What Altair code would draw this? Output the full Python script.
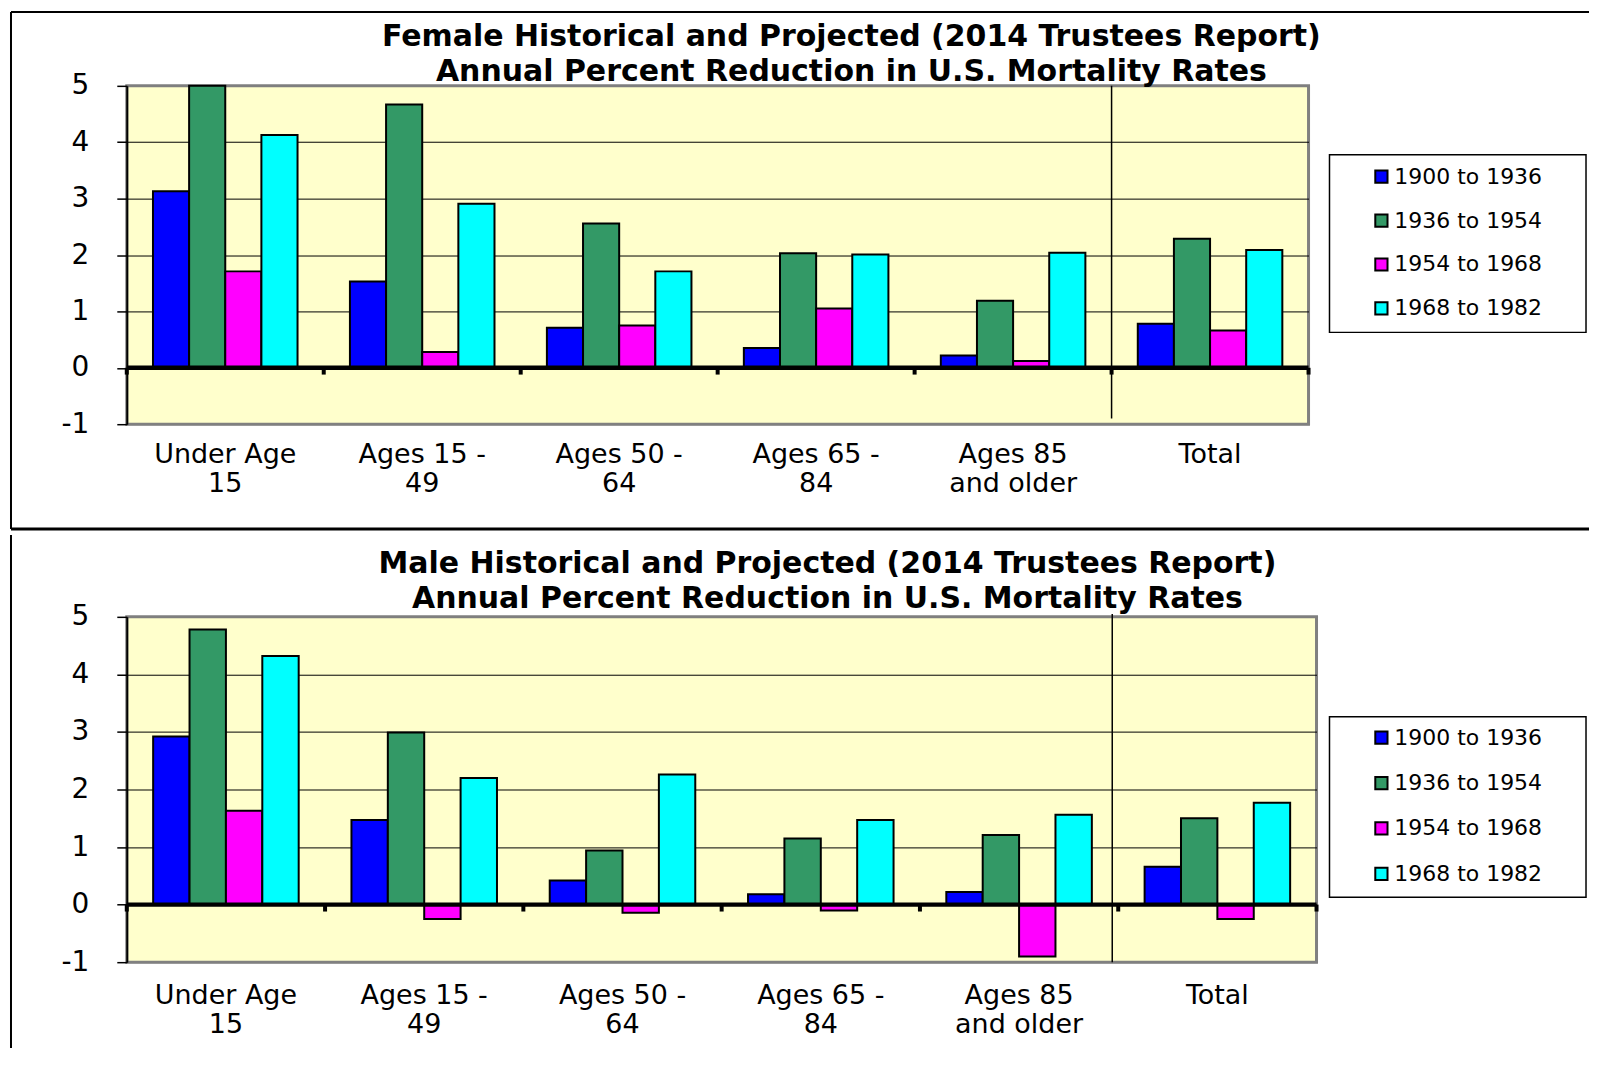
import altair as alt
import pandas as pd

categories = ["Under Age|15", "Ages 15 -|49", "Ages 50 -|64", "Ages 65 -|84", "Ages 85|and older", "Total"]
periods = ["1900 to 1936", "1936 to 1954", "1954 to 1968", "1968 to 1982"]
colors = ["#0000FF", "#339966", "#FF00FF", "#00FFFF"]
y_ticks = [-1, 0, 1, 2, 3, 4, 5]

female_1900_1936 = [3.13, 1.53, 0.71, 0.35, 0.22, 0.78]
female_1936_1954 = [5.00, 4.67, 2.56, 2.03, 1.19, 2.29]
female_1954_1968 = [1.71, 0.28, 0.75, 1.05, 0.12, 0.66]
female_1968_1982 = [4.13, 2.91, 1.71, 2.01, 2.04, 2.09]

male_1900_1936 = [2.92, 1.47, 0.42, 0.18, 0.22, 0.66]
male_1936_1954 = [4.78, 2.99, 0.94, 1.15, 1.21, 1.50]
male_1954_1968 = [1.63, -0.25, -0.14, -0.10, -0.90, -0.25]
male_1968_1982 = [4.32, 2.20, 2.26, 1.47, 1.56, 1.77]

female_title = ["Female Historical and Projected (2014 Trustees Report)",
                "Annual  Percent Reduction in U.S. Mortality Rates"]
male_title = ["Male Historical and Projected (2014 Trustees Report)",
              "Annual  Percent Reduction in U.S. Mortality Rates"]

FONT = "DejaVu Sans"
one = pd.DataFrame({"d": [0]})


def panel(series, title_lines, W, H, tx, ty1, ty2, leg_y, row_pad, box, is_top,
          xlab_pad, sep_dx):
    df = pd.DataFrame([
        {"cat": c, "period": p, "val": v}
        for p, vals in zip(periods, series)
        for c, v in zip(categories, vals)
    ])
    xs = alt.Scale(paddingInner=0, paddingOuter=0)
    ys = alt.Scale(domain=[-1, 5], nice=False)

    bars = alt.Chart(df).mark_bar(stroke="black", strokeWidth=2).encode(
        x=alt.X("cat:N", sort=categories, title=None, scale=xs,
                axis=alt.Axis(labelExpr="split(datum.label, '|')", labelAngle=0,
                              labelFontSize=27, labelLineHeight=29, labelPadding=xlab_pad,
                              labelLimit=0, domain=False, ticks=False, grid=False,
                              labelColor="black", labelFont=FONT)),
        xOffset=alt.XOffset("period:N", sort=periods,
                            scale=alt.Scale(paddingOuter=0.725, paddingInner=0)),
        y=alt.Y("val:Q", scale=ys, title=None,
                axis=alt.Axis(values=y_ticks, labelExpr="toString(datum.value)",
                              labelFontSize=28, labelPadding=28, labelFont=FONT,
                              labelColor="black", tickSize=10, tickWidth=1.5,
                              tickColor="black", domainColor="black", domainWidth=2,
                              grid=True, gridWidth=1,
                              gridColor=alt.condition("datum.value == 5 || datum.value == -1",
                                                      alt.value("#808080"), alt.value("black")))),
        color=alt.Color("period:N", sort=periods,
                        scale=alt.Scale(domain=periods, range=colors),
                        legend=alt.Legend(title=None, orient="none", direction="vertical",
                                          legendX=1246, legendY=leg_y, rowPadding=row_pad)),
    )

    zero = alt.Chart(one).mark_rule(color="black", strokeWidth=4.5).encode(
        y=alt.datum(0, scale=ys))

    cat_df = pd.DataFrame({"cat": categories})
    ticks0 = alt.Chart(cat_df).mark_rule(color="black", strokeWidth=4).encode(
        x=alt.X("cat:N", sort=categories, title=None, bandPosition=0),
        y=alt.datum(0), y2=alt.datum(-0.12))
    last_df = pd.DataFrame({"cat": [categories[-1]]})
    ticks1 = alt.Chart(last_df).mark_rule(color="black", strokeWidth=4).encode(
        x=alt.X("cat:N", sort=categories, title=None, bandPosition=1),
        y=alt.datum(0), y2=alt.datum(-0.12))
    sep = alt.Chart(last_df).mark_rule(color="black", strokeWidth=1.5, xOffset=sep_dx).encode(
        x=alt.X("cat:N", sort=categories, title=None, bandPosition=0),
        y=alt.datum(5.05 if not is_top else 5.0), y2=alt.datum(-0.9 if is_top else -1.0))

    legbox = alt.Chart(one).mark_rect(fill="white", stroke="black", strokeWidth=1.5).encode(
        x=alt.value(box[0]), x2=alt.value(box[1]), y=alt.value(box[2]), y2=alt.value(box[3]))

    t1 = alt.Chart(pd.DataFrame({"t": [title_lines[0]]})).mark_text(
        font=FONT, fontWeight="bold", fontSize=30, align="center", baseline="middle",
        color="black").encode(text="t:N", x=alt.value(tx), y=alt.value(ty1))
    t2 = alt.Chart(pd.DataFrame({"t": [title_lines[1]]})).mark_text(
        font=FONT, fontWeight="bold", fontSize=30, align="center", baseline="middle",
        color="black").encode(text="t:N", x=alt.value(tx), y=alt.value(ty2))

    layers = [bars, zero, ticks0, ticks1, sep, legbox, t1, t2]
    if is_top:
        layers += [
            alt.Chart(one).mark_rule(color="black", strokeWidth=2).encode(
                x=alt.value(-116), x2=alt.value(1465), y=alt.value(-74)),
            alt.Chart(one).mark_rule(color="black", strokeWidth=2).encode(
                x=alt.value(-116), y=alt.value(-74), y2=alt.value(444)),
            alt.Chart(one).mark_rule(color="black", strokeWidth=3).encode(
                x=alt.value(-116), x2=alt.value(1465), y=alt.value(444)),
        ]
    else:
        layers += [
            alt.Chart(one).mark_rule(color="black", strokeWidth=2).encode(
                x=alt.value(-116), y=alt.value(-82), y2=alt.value(432)),
        ]
    return alt.layer(*layers).properties(width=W, height=H)


top = panel([female_1900_1936, female_1936_1954, female_1954_1968, female_1968_1982],
            female_title, 1184, 339, 726, -48.5, -13.5, 80, 22, (1205, 1462, 69, 247), True,
            17, 0)
bottom = panel([male_1900_1936, male_1936_1954, male_1954_1968, male_1968_1982],
               male_title, 1192, 346, 702, -53, -18, 110, 23.5, (1205, 1462, 100, 281), False,
               20, -6)

chart = alt.vconcat(top, bottom, spacing=0, padding=0, background="white").resolve_scale(
    color="independent", xOffset="independent"
).resolve_legend(color="independent").configure_view(
    stroke="#808080", strokeWidth=3, fill="#FFFFCC"
).configure_legend(
    labelFont=FONT, labelFontSize=22, labelColor="black", symbolType="square",
    symbolSize=150, symbolStrokeColor="black", symbolStrokeWidth=2, labelOffset=2,
    padding=0
)

chart.save("out.html", embed_options={"renderer": "svg", "actions": False})
